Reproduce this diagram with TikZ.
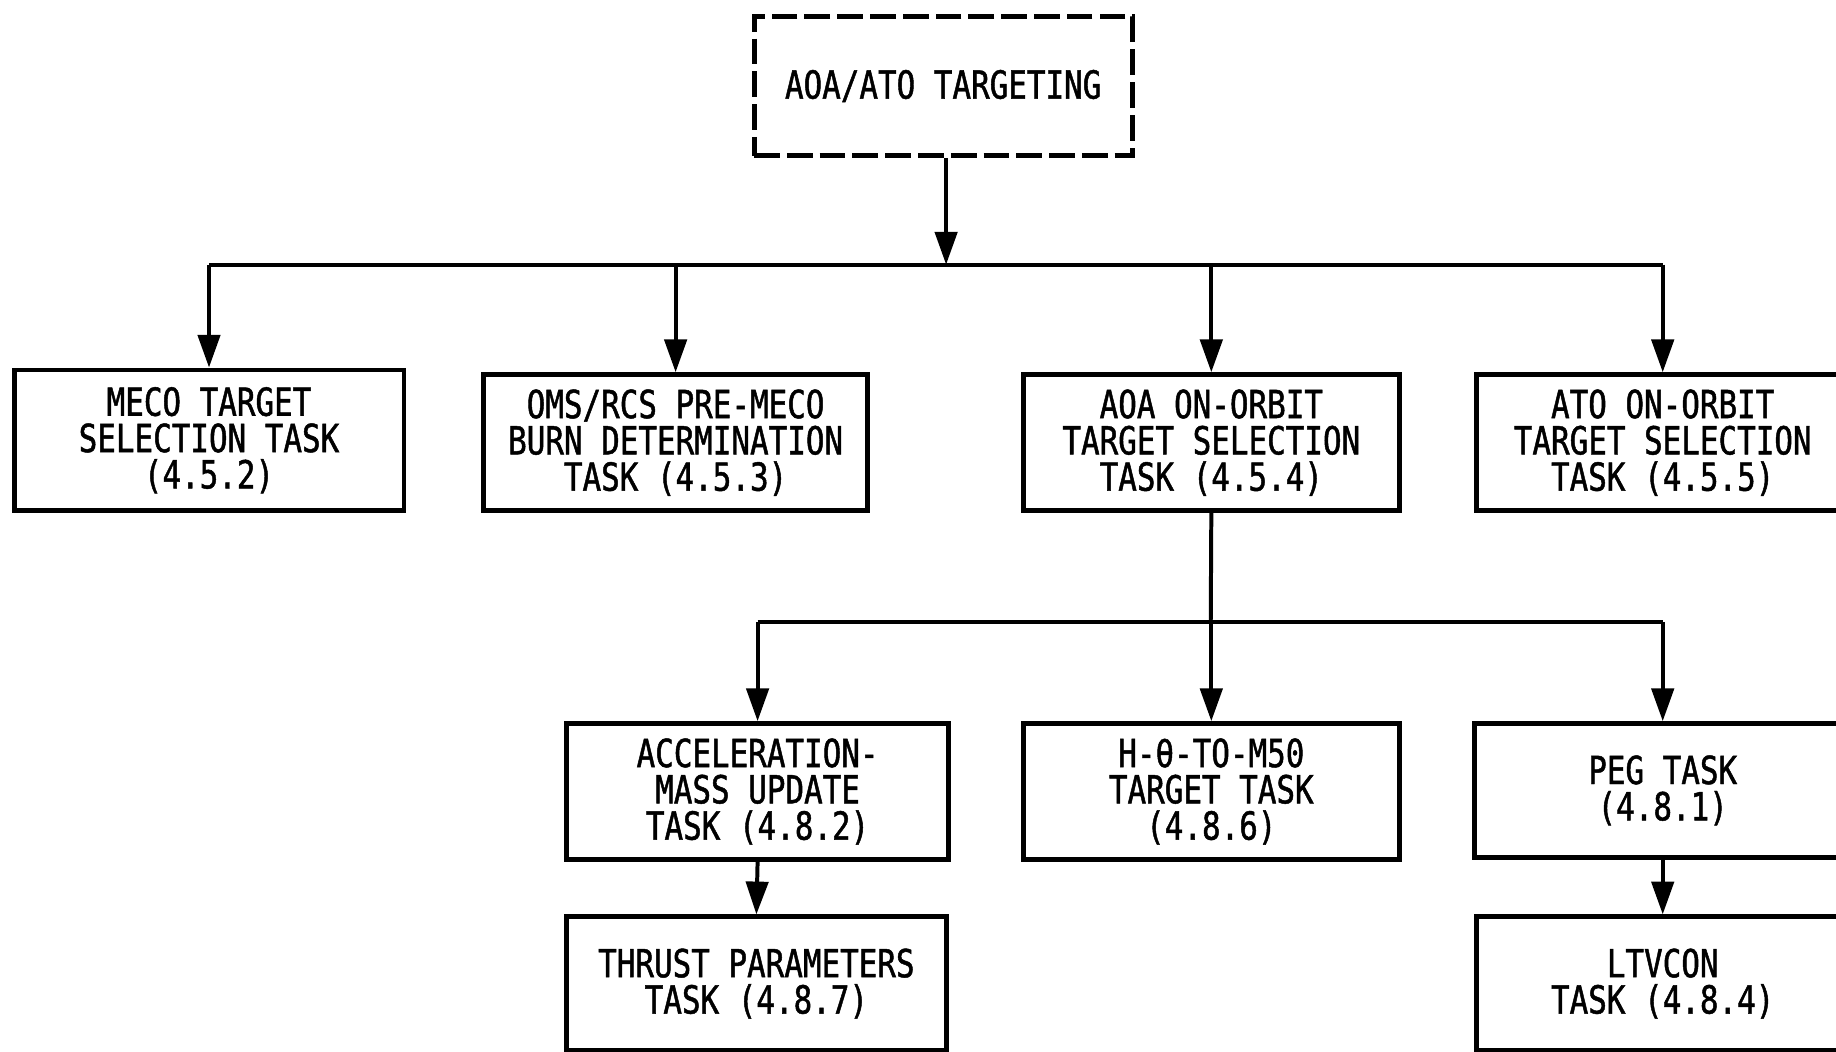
\documentclass[tikz,border=0pt]{standalone}
\usepackage{fontspec}
\setmainfont{DejaVu Sans Mono}[FakeStretch=0.8, FakeBold=1.2]
\usetikzlibrary{arrows.meta}

\begin{document}
\begin{tikzpicture}[x=0.5pt, y=-0.5pt, >={Triangle[length=14pt,width=9.5pt]},
  task/.style={draw, line width=2.1pt, align=center, inner sep=0pt,
    font=\fontsize{16.5}{15.5}\selectfont},
  link/.style={line width=1.7pt}]
  \useasboundingbox (0,0) rectangle (1568,898);
  \clip (0,0) rectangle (1568,898);
  % top
  \node[task, dashed, dash pattern=on 11pt off 3pt, minimum width=161.5pt, minimum height=59.5pt] (targ) at (805.5,73.5) {AOA/ATO TARGETING};
  % first row
  \node[task, minimum width=166.5pt, minimum height=60pt] (meco) at (178.5,376) {MECO TARGET\\SELECTION TASK\\(4.5.2)};
  \node[task, minimum width=164pt, minimum height=58pt] (oms) at (577,378) {OMS/RCS PRE-MECO\\BURN DETERMINATION\\TASK (4.5.3)};
  \node[task, minimum width=160.5pt, minimum height=58pt] (aoa) at (1034.5,378) {AOA ON-ORBIT\\TARGET SELECTION\\TASK (4.5.4)};
  \node[task, minimum width=159pt, minimum height=58pt] (ato) at (1420,378) {ATO ON-ORBIT\\TARGET SELECTION\\TASK (4.5.5)};
  % second row
  \node[task, minimum width=163pt, minimum height=58pt] (accel) at (647,676) {ACCELERATION-\\MASS UPDATE\\TASK (4.8.2)};
  \node[task, minimum width=160.5pt, minimum height=58pt] (hthm) at (1034.5,676) {H-θ-TO-M50\\TARGET TASK\\(4.8.6)};
  \node[task, minimum width=160.5pt, minimum height=57pt] (peg) at (1420,675) {PEG TASK\\(4.8.1)};
  % third row
  \node[task, minimum width=162pt, minimum height=57pt] (thrust) at (646,840) {THRUST PARAMETERS\\TASK (4.8.7)};
  \node[task, minimum width=159pt, minimum height=57pt] (ltv) at (1420,840) {LTVCON\\TASK (4.8.4)};
  % connectors
  \coordinate (bus) at (808,226);
  \coordinate (bustwo) at (1034,531);
  \draw[link, ->] (targ.south -| bus) -- (bus);
  \draw[link] (meco.north |- bus) -- (ato.north |- bus);
  \foreach \n in {meco, oms, aoa, ato}
    \draw[link, ->] (\n.north |- bus) -- (\n.north);
  \draw[link] (aoa.south) -- (bustwo);
  \draw[link] (accel.north |- bustwo) -- (peg.north |- bustwo);
  \foreach \n in {accel, hthm, peg}
    \draw[link, ->] (\n.north |- bustwo) -- (\n.north);
  \draw[link, ->] (accel.south) -- (thrust.north);
  \draw[link, ->] (peg.south) -- (ltv.north);
\end{tikzpicture}
\end{document}
